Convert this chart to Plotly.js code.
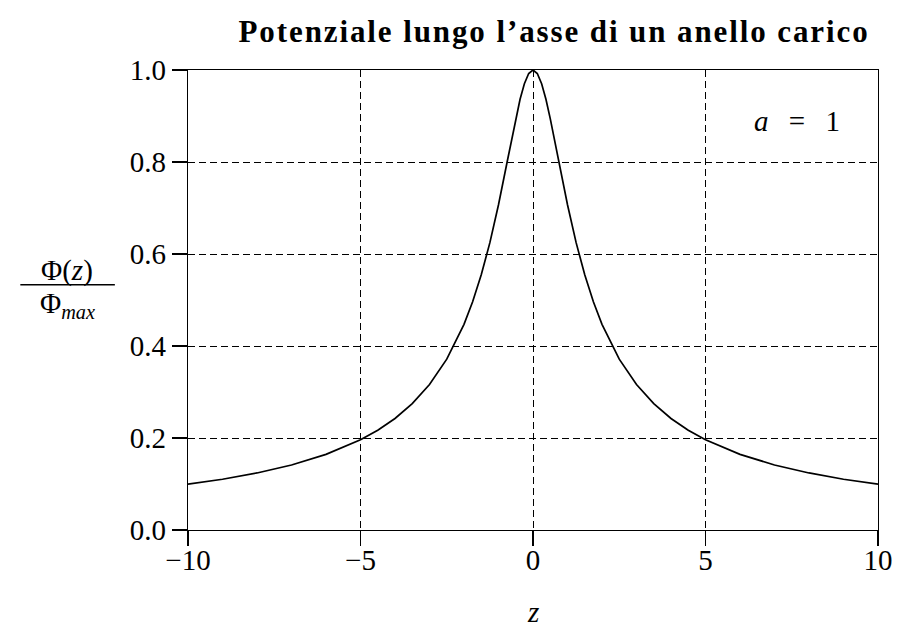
<!DOCTYPE html>
<html>
<head>
<meta charset="utf-8">
<script src="https://cdn.plot.ly/plotly-3.0.1.min.js"></script>
<style>html,body{margin:0;padding:0;background:#fff;}#chart{width:898px;height:631px;}
.gtitle{letter-spacing:1.9px;}</style>
</head>
<body>
<div id="chart"></div>
<script>
// z positions along the ring axis (a = 1)
var zValues = [-10, -9, -8, -7, -6, -5, -4.5, -4, -3.5, -3, -2.5, -2, -1.75, -1.5, -1.25, -1, -0.75, -0.5, -0.375, -0.25, -0.125, 0,
               0.125, 0.25, 0.375, 0.5, 0.75, 1, 1.25, 1.5, 1.75, 2, 2.5, 3, 3.5, 4, 4.5, 5, 6, 7, 8, 9, 10];
// normalised potential
var phiRatio = [0.0995, 0.1104, 0.1240, 0.1414, 0.1644, 0.1961, 0.2169, 0.2425, 0.2747, 0.3162, 0.3714, 0.4472, 0.4961, 0.5547, 0.6247, 0.7071, 0.8000, 0.8944, 0.9363, 0.9701, 0.9923, 1.0,
                0.9923, 0.9701, 0.9363, 0.8944, 0.8000, 0.7071, 0.6247, 0.5547, 0.4961, 0.4472, 0.3714, 0.3162, 0.2747, 0.2425, 0.2169, 0.1961, 0.1644, 0.1414, 0.1240, 0.1104, 0.0995];
var xTicks = [-10, -5, 0, 5, 10];
var yTicks = [0.0, 0.2, 0.4, 0.6, 0.8, 1.0];
var titleText = "<b>Potenziale lungo l’asse di un anello carico</b>";

var FONT = "Liberation Serif, Times New Roman, serif";
var FS = 29;

var trace = {
  x: zValues, y: phiRatio, type: "scatter", mode: "lines",
  line: {color: "#000", width: 1.7},
  hoverinfo: "skip"
};

var axisCommon = {
  showline: true, mirror: true, linecolor: "#000", linewidth: 1.3,
  showgrid: true, gridcolor: "#000", gridwidth: 1, griddash: "7px,4px",
  zeroline: false, ticks: "outside", ticklen: 15, tickcolor: "#000", tickwidth: 1.3,
  tickfont: {family: FONT, size: FS, color: "#000"}
};

var layout = {
  width: 898, height: 631,
  margin: {l: 188, r: 20, t: 70, b: 101},
  paper_bgcolor: "#fff", plot_bgcolor: "#fff",
  showlegend: false,
  title: {text: titleText, font: {family: FONT, size: 31, color: "#000"}, x: 0.617, xanchor: "center", y: 0.95, yanchor: "middle"},
  xaxis: Object.assign({}, axisCommon, {range: [-10, 10], tickvals: xTicks, ticklabelstandoff: -11, ticktext: xTicks.map(function(v){return v < 0 ? "\u2212" + Math.abs(v) : String(v);})}),
  yaxis: Object.assign({}, axisCommon, {range: [0, 1], tickvals: yTicks, ticktext: yTicks.map(function(v){return v.toFixed(1);})}),
  annotations: [
    {text: "<i>z</i>", xref: "paper", yref: "paper", x: 0.5, y: -0.178, xanchor: "center", yanchor: "middle", showarrow: false, font: {family: FONT, size: FS, color: "#000"}},
    {text: "<i>a</i>\u2002\u2009=\u2002\u20091", xref: "x", yref: "y", x: 7.65, y: 0.889, xanchor: "center", yanchor: "middle", showarrow: false, font: {family: FONT, size: FS, color: "#000"}},
    {text: "Φ(<i>z</i>)", xref: "paper", yref: "paper", x: -0.175, y: 0.565, xanchor: "center", yanchor: "middle", showarrow: false, font: {family: FONT, size: FS, color: "#000"}},
    {text: "Φ<sub><i>max</i></sub>", xref: "paper", yref: "paper", x: -0.175, y: 0.49, xanchor: "center", yanchor: "middle", showarrow: false, font: {family: FONT, size: FS, color: "#000"}}
  ],
  shapes: [
    {type: "line", xref: "paper", yref: "paper", x0: -0.243, x1: -0.106, y0: 0.533, y1: 0.533, line: {color: "#000", width: 1.5}}
  ]
};

Plotly.newPlot("chart", [trace], layout, {displayModeBar: false, staticPlot: true});
</script>
</body>
</html>
